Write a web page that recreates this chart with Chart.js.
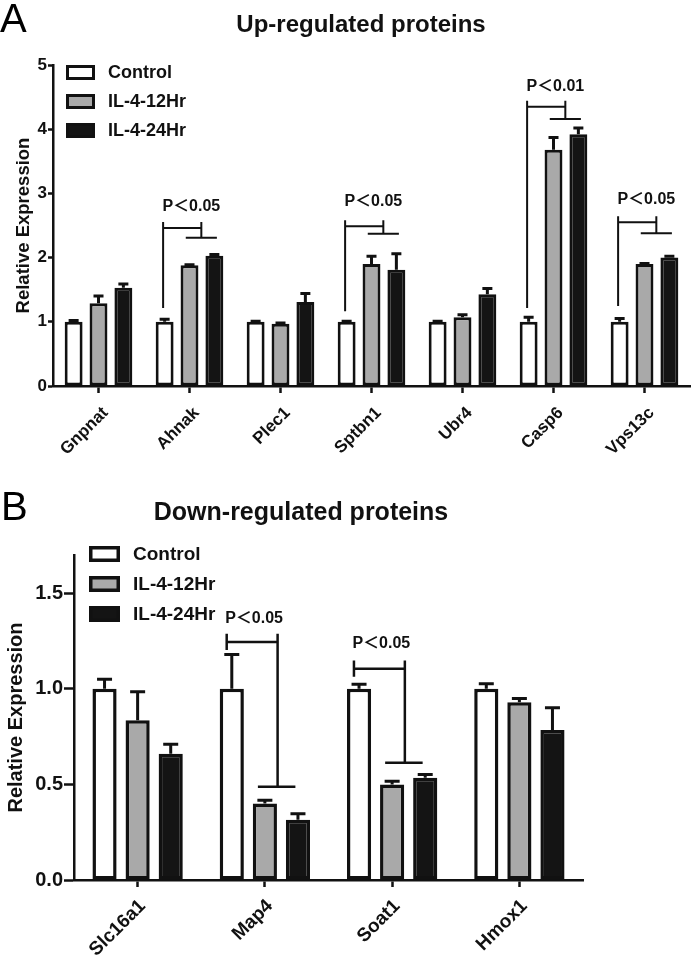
<!DOCTYPE html>
<html><head><meta charset="utf-8">
<script src="https://cdn.jsdelivr.net/npm/chart.js@4.4.0/dist/chart.umd.min.js"></script>
<style>
html,body{margin:0;padding:0;background:#fff;width:693px;height:959px;overflow:hidden}
#ca{position:absolute;left:0;top:0}
#cb{position:absolute;left:0;top:488px}
</style></head><body>
<canvas id="ca" width="693" height="488"></canvas>
<canvas id="cb" width="693" height="471"></canvas>
<script>
// ---------- data ----------
const seriesNames = ['Control', 'IL-4-12Hr', 'IL-4-24Hr'];

const upCategories = ['Gnpnat', 'Ahnak', 'Plec1', 'Sptbn1', 'Ubr4', 'Casp6', 'Vps13c'];
const upControl    = [1.00, 1.00, 1.00, 1.00, 1.00, 1.00, 1.00];
const upControlErr = [0.02, 0.04, 0.01, 0.01, 0.01, 0.07, 0.05];
const up12         = [1.29, 1.88, 0.97, 1.90, 1.07, 3.68, 1.90];
const up12Err      = [0.11, 0.01, 0.01, 0.12, 0.04, 0.19, 0.01];
const up24         = [1.53, 2.03, 1.31, 1.81, 1.43, 3.92, 2.00];
const up24Err      = [0.06, 0.02, 0.13, 0.25, 0.09, 0.10, 0.02];
const upTicks      = [0, 1, 2, 3, 4, 5];

const upSigCats     = ['Ahnak', 'Sptbn1', 'Casp6', 'Vps13c'];
const upSigLabels   = ['P＜0.05', 'P＜0.05', 'P＜0.01', 'P＜0.05'];
const upSigTextY    = [2.79, 2.87, 4.67, 2.91];
const upSigTopY     = [2.46, 2.49, 4.35, 2.55];
const upSigLowY     = [2.31, 2.37, 4.16, 2.38];
const upSigLeftEndY = [1.23, 1.18, 1.23, 1.26];

const downCategories = ['Slc16a1', 'Map4', 'Soat1', 'Hmox1'];
const downControl    = [1.00, 1.00, 1.00, 1.00];
const downControlErr = [0.05, 0.18, 0.024, 0.026];
const down12         = [0.835, 0.40, 0.50, 0.93];
const down12Err      = [0.15, 0.017, 0.016, 0.02];
const down24         = [0.66, 0.315, 0.535, 0.785];
const down24Err      = [0.05, 0.031, 0.017, 0.116];
const downTicks      = [0, 0.5, 1.0, 1.5];

const downSigCats     = ['Map4', 'Soat1'];
const downSigLabels   = ['P＜0.05', 'P＜0.05'];
const downSigTextY    = [1.365, 1.235];
const downSigTopY     = [1.245, 1.105];
const downSigLowY     = [0.488, 0.613];
const downSigLeftEndY = [1.21, 1.07];

// ---------- styling ----------
const FONT = "'Liberation Sans', Arial, 'Noto Sans CJK SC', sans-serif";
const INK = '#111111';
const fillColors = ['#ffffff', '#a9a9a9', '#141414'];

function makeDatasets(vals, errs, bw) {
  return seriesNames.map((n, i) => ({
    label: n, data: vals[i], errors: errs[i],
    backgroundColor: fillColors[i], borderColor: INK, borderWidth: bw,
    borderSkipped: false
  }));
}

const errorBars = {
  id: 'errorBars',
  afterDatasetsDraw(chart, args, o) {
    const ctx = chart.ctx, y = chart.scales.y;
    ctx.save();
    ctx.strokeStyle = INK; ctx.lineWidth = o.lineWidth; ctx.lineCap = 'butt';
    chart.data.datasets.forEach((ds, i) => {
      chart.getDatasetMeta(i).data.forEach((bar, j) => {
        const top = y.getPixelForValue(ds.data[j] + ds.errors[j]);
        ctx.beginPath();
        ctx.moveTo(bar.x, bar.y); ctx.lineTo(bar.x, top - o.lineWidth / 2);
        ctx.moveTo(bar.x - o.capWidth / 2, top); ctx.lineTo(bar.x + o.capWidth / 2, top);
        ctx.stroke();
      });
    });
    ctx.restore();
  }
};

const sigMarks = {
  id: 'sigMarks',
  afterDatasetsDraw(chart, args, o) {
    const ctx = chart.ctx, x = chart.scales.x, y = chart.scales.y;
    const labels = chart.data.labels;
    const cw = (x.right - x.left) / labels.length;
    const g = o.geom;
    ctx.save();
    ctx.strokeStyle = INK; ctx.lineWidth = g.lineWidth; ctx.lineCap = 'square';
    o.cats.forEach((c, k) => {
      const cx = x.getPixelForValue(labels.indexOf(c));
      const yt = y.getPixelForValue(o.topY[k]);
      const yl = y.getPixelForValue(o.lowY[k]);
      const ye = y.getPixelForValue(o.leftEndY[k]);
      const xl = cx + g.left * cw, xr = cx + g.right * cw;
      ctx.beginPath();
      ctx.moveTo(xl, yt - g.rise); ctx.lineTo(xl, ye);
      ctx.moveTo(xl, yt); ctx.lineTo(xr, yt);
      ctx.moveTo(xr, yt - g.rise); ctx.lineTo(xr, yl);
      ctx.moveTo(cx + g.lowStart * cw, yl); ctx.lineTo(cx + g.lowEnd * cw, yl);
      ctx.stroke();
      ctx.fillStyle = INK;
      ctx.font = 'bold ' + g.fontSize + 'px ' + FONT;
      ctx.textAlign = 'center'; ctx.textBaseline = 'middle';
      ctx.fillText(o.labels[k], cx + g.textDx * cw, y.getPixelForValue(o.textY[k]));
    });
    ctx.restore();
  }
};

const boxLegend = {
  id: 'boxLegend',
  afterDraw(chart, args, o) {
    const ctx = chart.ctx, ca = chart.chartArea;
    ctx.save();
    chart.data.datasets.forEach((ds, i) => {
      const bx = ca.left + o.dx, by = ca.top + o.dy + i * o.gap;
      ctx.fillStyle = ds.backgroundColor;
      ctx.fillRect(bx, by, o.w, o.h);
      ctx.lineWidth = o.lw; ctx.strokeStyle = INK;
      ctx.strokeRect(bx + o.lw / 2, by + o.lw / 2, o.w - o.lw, o.h - o.lw);
      ctx.fillStyle = INK;
      ctx.font = 'bold ' + o.fontSize + 'px ' + FONT;
      ctx.textAlign = 'left'; ctx.textBaseline = 'middle';
      ctx.fillText(ds.label, bx + o.tx, by + o.h / 2 + 1);
    });
    ctx.restore();
  }
};

const headings = {
  id: 'headings',
  afterDraw(chart, args, o) {
    const ctx = chart.ctx;
    ctx.save();
    ctx.fillStyle = '#000';
    ctx.textBaseline = 'alphabetic';
    ctx.font = o.letterSize + 'px ' + FONT;
    ctx.textAlign = 'left';
    ctx.fillText(o.letter, o.letterX, o.baseY);
    ctx.font = 'bold ' + o.titleSize + 'px ' + FONT;
    ctx.textAlign = 'center';
    ctx.fillStyle = INK;
    ctx.fillText(o.title, o.titleX, o.baseY);
    ctx.restore();
  }
};

function makeChart(id, cfg) {
  return new Chart(document.getElementById(id), {
    type: 'bar',
    data: { labels: cfg.categories, datasets: makeDatasets(cfg.vals, cfg.errs, cfg.bw) },
    options: {
      responsive: false, animation: false, devicePixelRatio: 1,
      layout: { padding: cfg.padding },
      datasets: { bar: { categoryPercentage: cfg.catPct, barPercentage: cfg.barPct } },
      plugins: {
        legend: { display: false }, tooltip: { enabled: false }, title: { display: false },
        errorBars: cfg.errOpts,
        sigMarks: cfg.sig,
        boxLegend: cfg.legend,
        headings: cfg.head
      },
      scales: {
        x: {
          offset: true,
          grid: { display: true, offset: false, drawOnChartArea: false, drawTicks: true,
                  tickLength: cfg.xTick, tickWidth: cfg.axisW, tickColor: INK, color: INK },
          border: { display: true, color: INK, width: cfg.axisW },
          ticks: { color: INK, font: { family: FONT, size: cfg.xFont, weight: 'bold' },
                   minRotation: 45, maxRotation: 45, autoSkip: false,
                   padding: cfg.xPad, labelOffset: cfg.xLabelOffset },
          afterFit(s) { s.height = cfg.xHeight; }
        },
        y: {
          min: 0, max: cfg.yMax,
          grid: { display: true, drawOnChartArea: false, drawTicks: true,
                  tickLength: cfg.yTick, tickWidth: cfg.axisW, tickColor: INK, color: INK },
          border: { display: true, color: INK, width: cfg.axisW },
          afterBuildTicks(s) { s.ticks = cfg.ticks.map(v => ({ value: v })); },
          ticks: { color: INK, padding: 1, font: { family: FONT, size: cfg.yFont, weight: 'bold' },
                   callback: (v) => cfg.tickFmt(v) },
          title: { display: true, text: 'Relative Expression', color: INK,
                   font: { family: FONT, size: cfg.yTitleSize, weight: 'bold' },
                   padding: { top: cfg.yTitlePad, bottom: 0 } },
          afterFit(s) { s.width = cfg.yWidth; }
        }
      }
    },
    plugins: [errorBars, sigMarks, boxLegend, headings]
  });
}

makeChart('ca', {
  categories: upCategories,
  vals: [upControl, up12, up24], errs: [upControlErr, up12Err, up24Err],
  bw: 3, catPct: 0.82, barPct: 0.72, yMax: 5, ticks: upTicks,
  tickFmt: v => String(v),
  padding: { left: 0, right: 3, top: 65, bottom: 0 },
  xHeight: 102, yWidth: 53, xTick: 7, yTick: 5, axisW: 2.5,
  xFont: 17, xPad: 10, xLabelOffset: 7, yFont: 17, yTitleSize: 18.5, yTitlePad: 13,
  errOpts: { lineWidth: 3, capWidth: 10 },
  sig: { cats: upSigCats, labels: upSigLabels, textY: upSigTextY, topY: upSigTopY,
         lowY: upSigLowY, leftEndY: upSigLeftEndY,
         geom: { left: -0.29, right: 0.13, lowStart: -0.03, lowEnd: 0.29, rise: 5,
                 textDx: 0.02, lineWidth: 2, fontSize: 16 } },
  legend: { dx: 13, dy: 0, w: 29, h: 15, gap: 29, tx: 42, lw: 3, fontSize: 18 },
  head: { letter: 'A', letterX: 0, letterSize: 40, title: 'Up-regulated proteins',
          titleX: 361, titleSize: 24, baseY: 32 }
});

makeChart('cb', {
  categories: downCategories,
  vals: [downControl, down12, down24], errs: [downControlErr, down12Err, down24Err],
  bw: 3.5, catPct: 0.78, barPct: 0.73, yMax: 1.7, ticks: downTicks,
  tickFmt: v => v.toFixed(1),
  padding: { left: 0, right: 110, top: 67, bottom: 0 },
  xHeight: 79, yWidth: 74, xTick: 7, yTick: 10, axisW: 2.5,
  xFont: 19, xPad: 8, xLabelOffset: 5, yFont: 20, yTitleSize: 20, yTitlePad: 4,
  errOpts: { lineWidth: 3, capWidth: 15 },
  sig: { cats: downSigCats, labels: downSigLabels, textY: downSigTextY, topY: downSigTopY,
         lowY: downSigLowY, leftEndY: downSigLeftEndY,
         geom: { left: -0.30, right: 0.10, lowStart: -0.045, lowEnd: 0.23, rise: 7,
                 textDx: -0.085, lineWidth: 2.5, fontSize: 16 } },
  legend: { dx: 15, dy: -9, w: 31, h: 16, gap: 30, tx: 44, lw: 3.5, fontSize: 19 },
  head: { letter: 'B', letterX: 1, letterSize: 40, title: 'Down-regulated proteins',
          titleX: 301, titleSize: 25, baseY: 32 }
});
</script>
</body></html>
